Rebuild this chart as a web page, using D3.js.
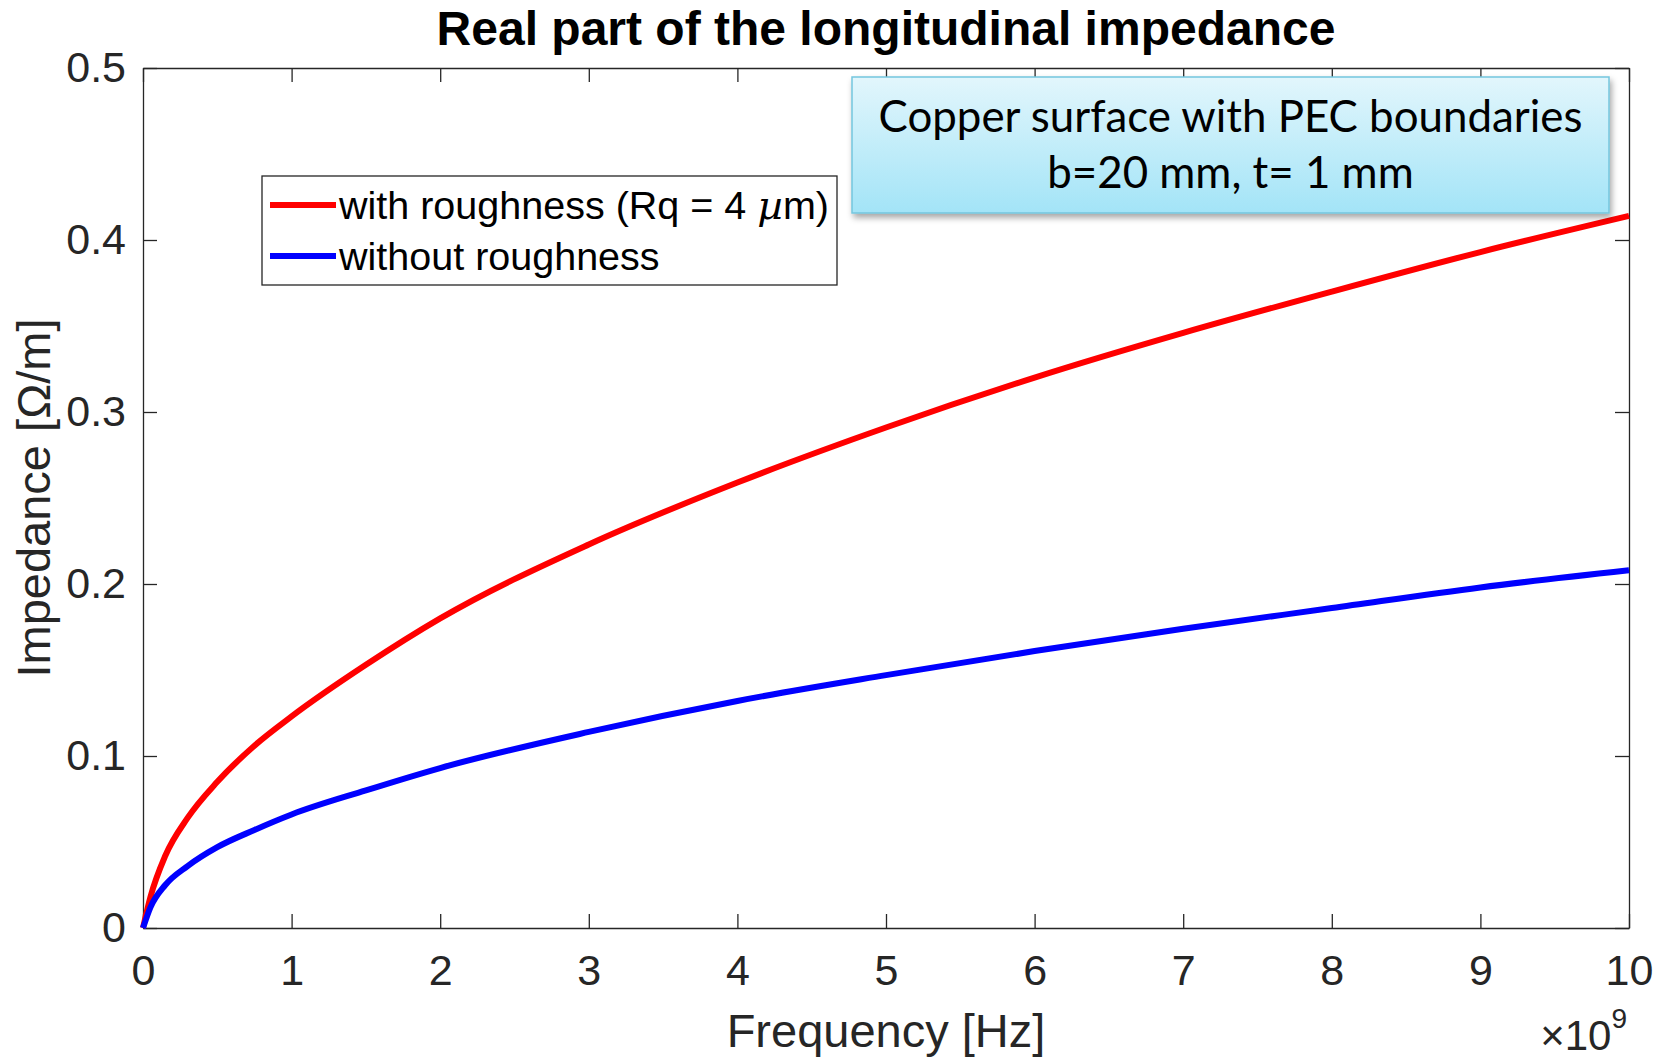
<!DOCTYPE html>
<html>
<head>
<meta charset="utf-8">
<script src="https://cdn.jsdelivr.net/npm/d3@7"></script>
<style>
  body { margin: 0; background: #fff; }
  svg { display: block; }
</style>
</head>
<body>
<svg id="chart"></svg>
<script>
const width = 1665;
const height = 1058;

// frequency in units of 1e9 Hz
const freqGHz = [0, 0.05, 0.15, 0.3, 0.5, 0.75, 1, 1.5, 2, 3, 4, 5, 6, 7, 8, 9, 10];
const withRough = [0, 0.018, 0.042, 0.064, 0.085, 0.106, 0.123, 0.153, 0.180, 0.223, 0.259, 0.291, 0.320, 0.346, 0.370, 0.393, 0.414];
const withoutRough = [0, 0.012, 0.025, 0.036, 0.047, 0.057, 0.066, 0.080, 0.093, 0.114, 0.132, 0.147, 0.161, 0.174, 0.186, 0.198, 0.208];

const xTicks = [0, 1, 2, 3, 4, 5, 6, 7, 8, 9, 10];
const yTicks = [0, 0.1, 0.2, 0.3, 0.4, 0.5];
const seriesNames = ["with roughness (Rq = 4 \u00b5m)", "without roughness"];
const seriesColors = ["#ff0000", "#0000ff"];
const noteLines = ["Copper surface with PEC boundaries", "b=20 mm, t= 1 mm"];

const margin = { top: 68, right: 36, bottom: 130, left: 143 };
const axisColor = "#262626";
const font = "'Liberation Sans', Arial, Helvetica, sans-serif";

const svg = d3.select("#chart")
  .attr("width", width)
  .attr("height", height)
  .style("font-family", font);

const x = d3.scaleLinear().domain([0, 10]).range([margin.left, width - margin.right]);
const y = d3.scaleLinear().domain([0, 0.5]).range([height - margin.bottom, margin.top]);

// axes: ticks inward on all four sides
const styleAxis = g => {
  g.select(".domain").attr("stroke", axisColor).attr("stroke-width", 1.3);
  g.selectAll(".tick line").attr("stroke", axisColor).attr("stroke-width", 1.3);
  g.selectAll(".tick text").attr("fill", axisColor).style("font-size", "43px").style("font-family", font);
};

svg.append("g")
  .attr("transform", `translate(0,${y(0)})`)
  .call(d3.axisBottom(x).tickValues(xTicks).tickSizeInner(-14).tickSizeOuter(0).tickPadding(26).tickFormat(d3.format("d")))
  .call(styleAxis);

svg.append("g")
  .attr("transform", `translate(0,${y(0.5)})`)
  .call(d3.axisTop(x).tickValues(xTicks).tickSizeInner(-14).tickSizeOuter(0).tickFormat(""))
  .call(styleAxis);

svg.append("g")
  .attr("transform", `translate(${x(0)},0)`)
  .call(d3.axisLeft(y).tickValues(yTicks).tickSizeInner(-14).tickSizeOuter(0).tickPadding(17)
    .tickFormat(d => d === 0 ? "0" : d3.format(".1f")(d)))
  .call(styleAxis);

svg.append("g")
  .attr("transform", `translate(${x(10)},0)`)
  .call(d3.axisRight(y).tickValues(yTicks).tickSizeInner(-14).tickSizeOuter(0).tickFormat(""))
  .call(styleAxis);

// curves
const line = d3.line()
  .x((d, i) => x(freqGHz[i]))
  .y(d => y(d))
  .curve(d3.curveMonotoneX);

[withRough, withoutRough].forEach((vals, i) => {
  svg.append("path")
    .datum(vals)
    .attr("fill", "none")
    .attr("stroke", seriesColors[i])
    .attr("stroke-width", 6)
    .attr("stroke-linejoin", "round")
    .attr("d", line);
});

// title
svg.append("text")
  .attr("x", (x(0) + x(10)) / 2)
  .attr("y", 45)
  .attr("text-anchor", "middle")
  .style("font-size", "48px")
  .style("font-weight", "bold")
  .attr("fill", "#000")
  .text("Real part of the longitudinal impedance");

// axis labels
svg.append("text")
  .attr("x", (x(0) + x(10)) / 2)
  .attr("y", 1047)
  .attr("text-anchor", "middle")
  .style("font-size", "47px")
  .attr("fill", axisColor)
  .text("Frequency [Hz]");

svg.append("text")
  .attr("transform", `translate(50,${(y(0) + y(0.5)) / 2}) rotate(-90)`)
  .attr("text-anchor", "middle")
  .style("font-size", "47px")
  .attr("fill", axisColor)
  .text("Impedance [\u03a9/m]");

// exponent
const expo = svg.append("text")
  .attr("x", x(10) - 2)
  .attr("y", 1050)
  .attr("text-anchor", "end")
  .attr("fill", axisColor)
  .style("font-size", "42px");
expo.append("tspan").text("\u00d710");
expo.append("tspan").attr("dy", -22).style("font-size", "28px").text("9");

// legend
const legend = svg.append("g");
legend.append("rect")
  .attr("x", 262).attr("y", 176)
  .attr("width", 575).attr("height", 109)
  .attr("fill", "#fff")
  .attr("stroke", axisColor)
  .attr("stroke-width", 1.3);

seriesNames.forEach((name, i) => {
  const ly = 205 + i * 51;
  legend.append("line")
    .attr("x1", 270).attr("x2", 336)
    .attr("y1", ly).attr("y2", ly)
    .attr("stroke", seriesColors[i])
    .attr("stroke-width", 6);
  const t = legend.append("text")
    .attr("x", 339)
    .attr("y", ly + 14)
    .style("font-size", "39.5px")
    .attr("fill", "#000");
  if (i === 0) {
    t.append("tspan").text("with roughness (Rq = 4 ");
    t.append("tspan").style("font-family", "'DejaVu Serif', serif").style("font-style", "italic").text("\u00b5");
    t.append("tspan").text("m)");
  } else {
    t.text(name);
  }
});

// annotation box
const defs = svg.append("defs");
const grad = defs.append("linearGradient")
  .attr("id", "noteFill")
  .attr("x1", 0).attr("y1", 0).attr("x2", 0).attr("y2", 1);
grad.append("stop").attr("offset", "0%").attr("stop-color", "#e2f6fc");
grad.append("stop").attr("offset", "100%").attr("stop-color", "#a3e4f7");

const shadow = defs.append("filter")
  .attr("id", "shadow")
  .attr("x", "-5%").attr("y", "-10%").attr("width", "115%").attr("height", "130%");
shadow.append("feDropShadow")
  .attr("dx", 2).attr("dy", 4)
  .attr("stdDeviation", 3)
  .attr("flood-color", "#000")
  .attr("flood-opacity", 0.35);

const note = { x: 852, y: 77, w: 757, h: 136 };
svg.append("rect")
  .attr("x", note.x).attr("y", note.y)
  .attr("width", note.w).attr("height", note.h)
  .attr("fill", "url(#noteFill)")
  .attr("stroke", "#74c6de")
  .attr("stroke-width", 1.5)
  .attr("filter", "url(#shadow)");

const noteText = svg.selectAll(".note")
  .data(noteLines)
  .join("text")
  .attr("class", "note")
  .attr("x", note.x + note.w / 2)
  .attr("y", (d, i) => 132 + i * 56)
  .attr("text-anchor", "middle")
  .style("font-family", "Lato, 'Open Sans', sans-serif")
  .style("font-size", "40px")
  .attr("fill", "#000")
  .text(d => d);

// fit first line of the note to the width seen in the picture
const w0 = noteText.nodes()[0].getComputedTextLength();
const fs = 40 * 704 / w0;
noteText.style("font-size", `${fs}px`);
</script>
</body>
</html>
